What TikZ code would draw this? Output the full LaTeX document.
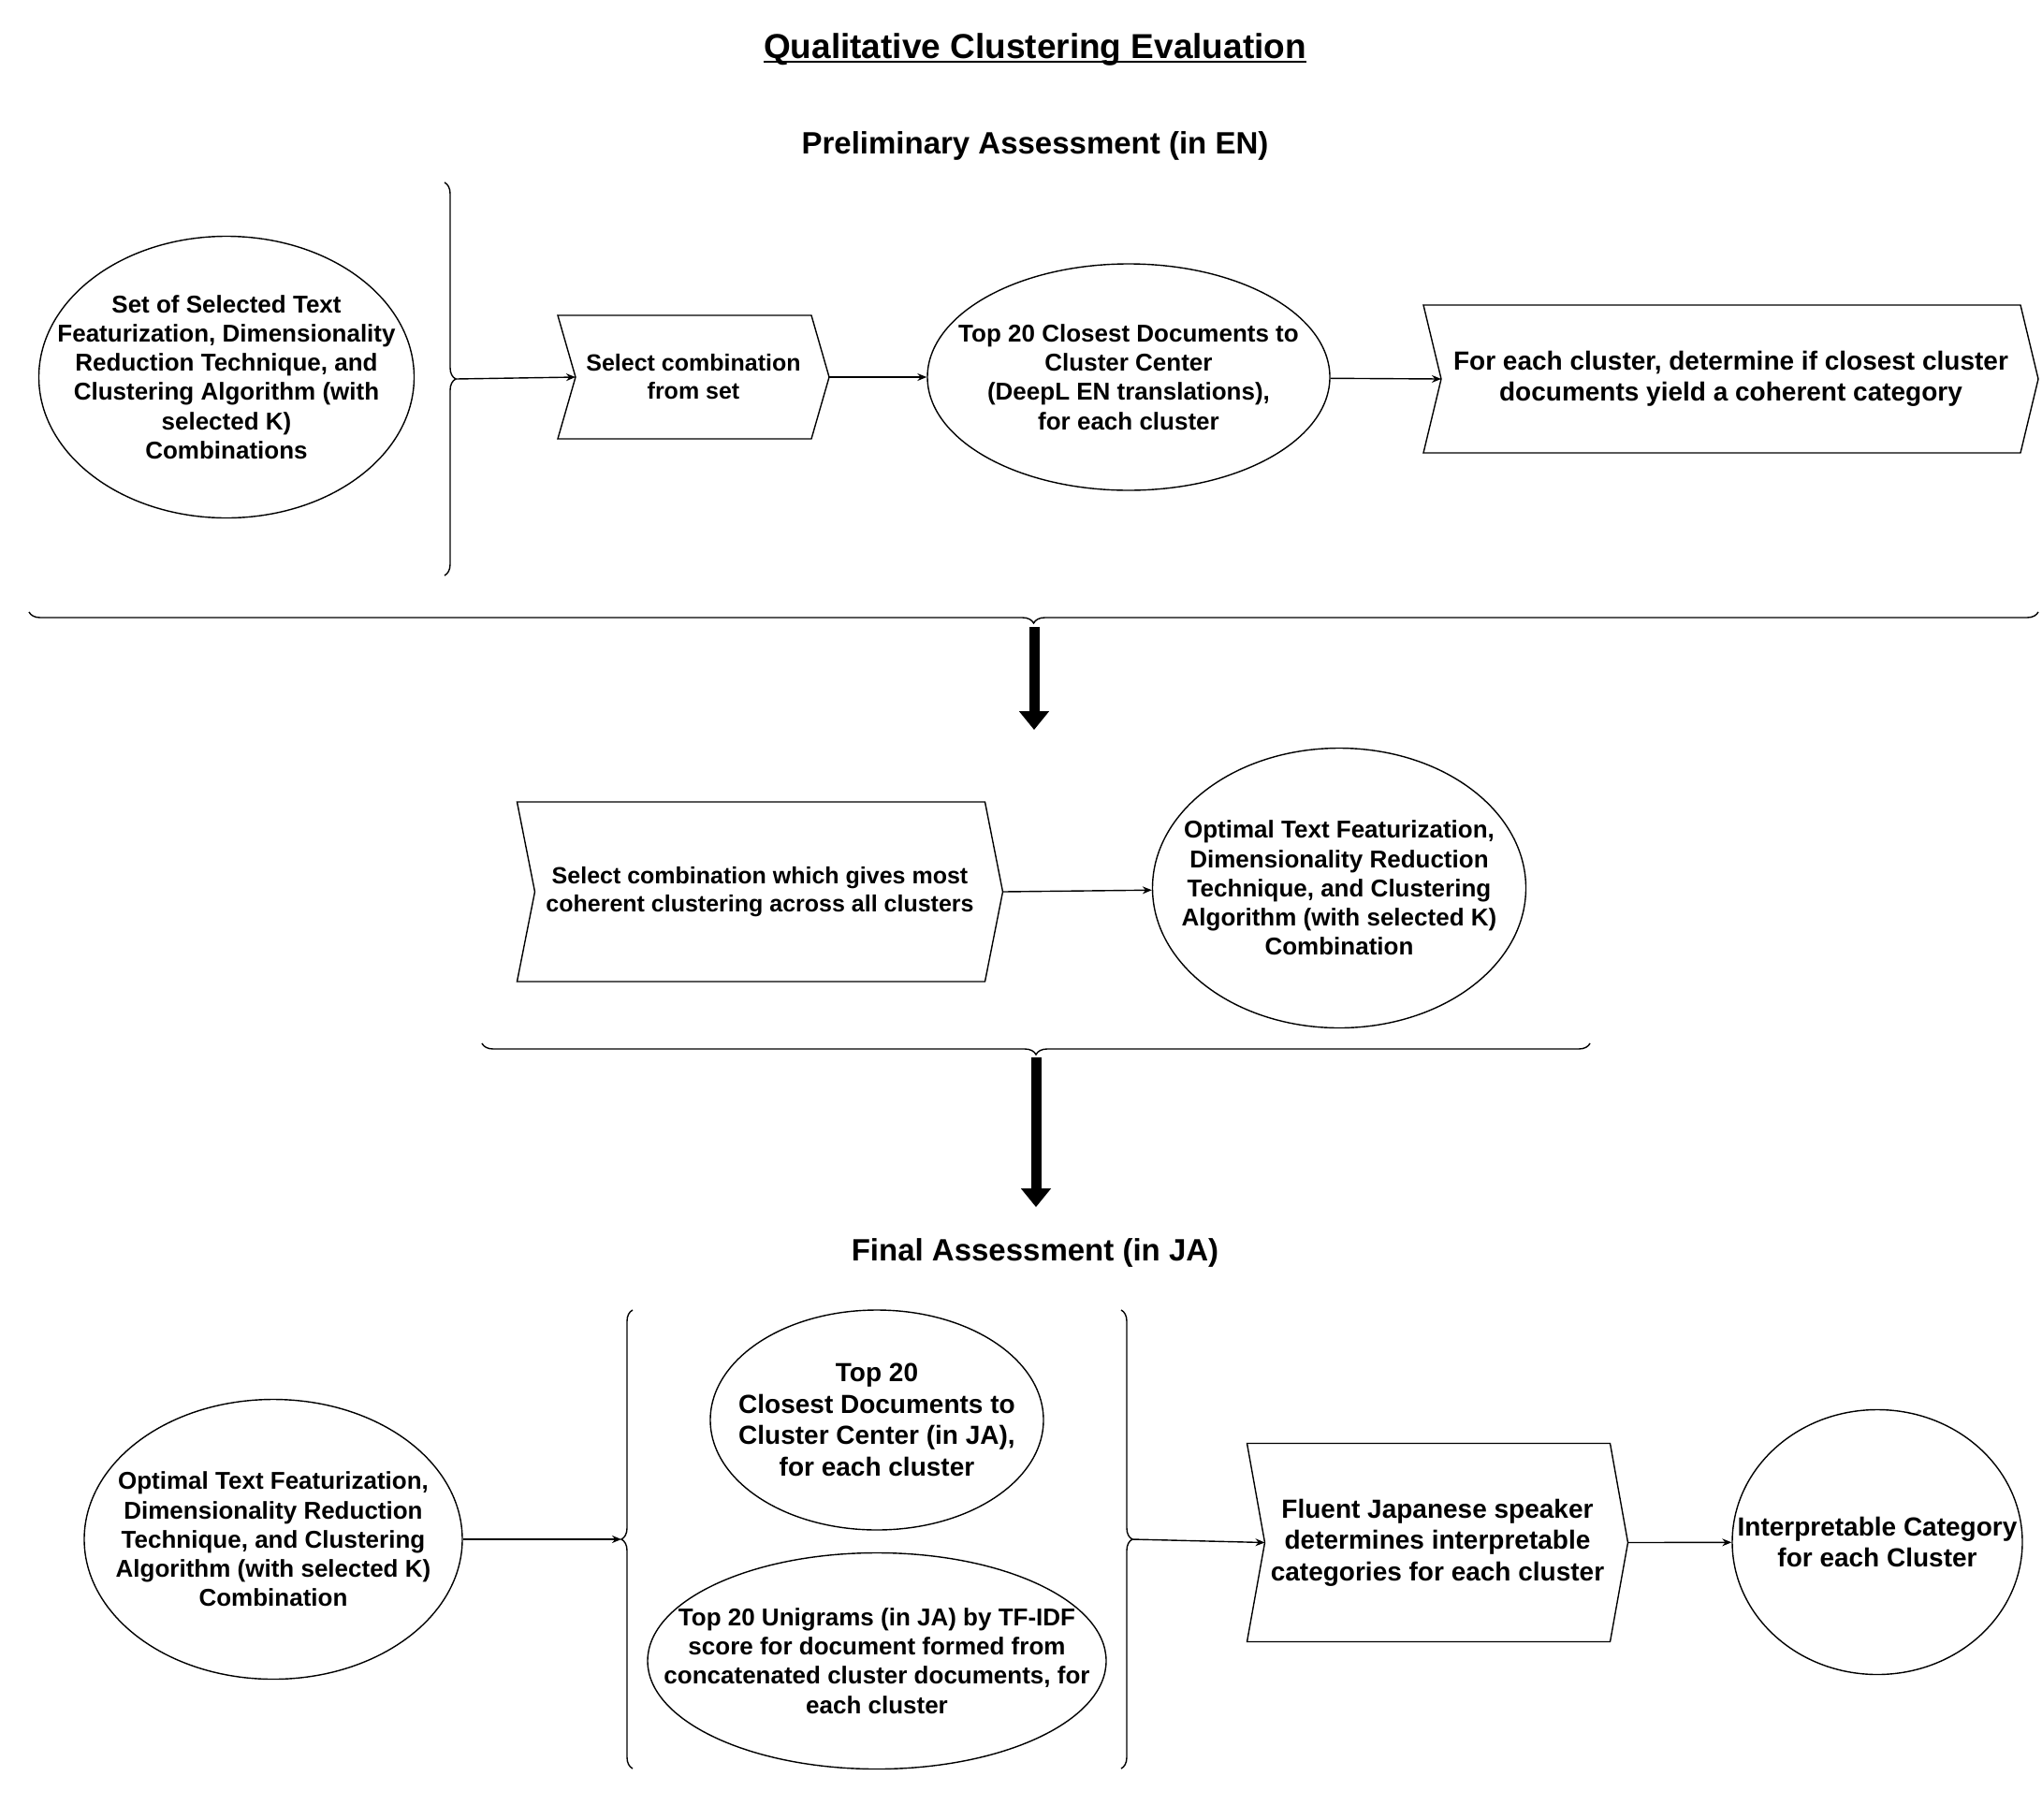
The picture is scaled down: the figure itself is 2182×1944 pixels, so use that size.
\documentclass[tikz,border=0pt]{standalone}
\usepackage{fontspec}
\setmainfont{Liberation Sans}
\usetikzlibrary{arrows.meta,shapes.geometric,decorations.pathreplacing}
\newcommand{\notchdepth}{19pt}
\tikzset{
	thinline/.style={line width=1.4pt},
	conn/.style={thinline, -{Stealth[length=10pt,width=8pt]}},
	bigarrow/.style={line width=11pt, -{Triangle[length=20pt,width=31pt]}},
	oval/.style={ellipse, draw, thinline, inner sep=-300pt, align=center},
	stepbox/.style={rectangle, inner sep=0pt, outer sep=0pt, align=center},
	bracket/.style={thinline, decorate, decoration={brace, amplitude=12pt}},
	heading/.style={inner sep=0pt, anchor=base, font=\bfseries\fontsize{33}{40}\selectfont},
	f25/.style={font=\bfseries\fontsize{25}{30}\selectfont},
	f26/.style={font=\bfseries\fontsize{26}{31.2}\selectfont},
	f28/.style={font=\bfseries\fontsize{28}{33.6}\selectfont},
}

\begin{document}
\begin{tikzpicture}[x=1pt, y=-1pt]
	\useasboundingbox (0,0) rectangle (2182,1944);
	% headings
	\node[heading, font=\bfseries\fontsize{37}{44}\selectfont] (title) at (1106,62.5) {Qualitative Clustering Evaluation};
	\draw[line width=2.2pt] ([yshift=-3.5pt]title.base west) -- ([yshift=-3.5pt]title.base east);
	\node[heading] (prelim) at (1106,164) {Preliminary Assessment (in EN)};
	\node[heading] (final) at (1106,1347) {Final Assessment (in JA)};

	% preliminary assessment
	\node[oval, f26, minimum width=401pt, minimum height=301pt] (setcombo) at (242,403) {Set of Selected Text\\Featurization, Dimensionality\\Reduction Technique, and\\Clustering Algorithm (with\\selected K)\\Combinations};
	\node[stepbox, f25, minimum width=290pt, minimum height=132pt] (select) at (741,403) {Select combination\\from set};
	\node[oval, f26, minimum width=430pt, minimum height=242pt] (topen) at (1206,403) {Top 20 Closest Documents to\\Cluster Center\\(DeepL EN translations),\\for each cluster};
	\node[stepbox, f28, minimum width=657pt, minimum height=158pt] (coherent) at (1849.5,405) {For each cluster, determine if closest cluster\\documents yield a coherent category};

	% selection
	\node[stepbox, f25, minimum width=519pt, minimum height=192pt] (best) at (812,953) {Select combination which gives most\\coherent clustering across all clusters};
	\node[oval, f26, minimum width=399pt, minimum height=299pt] (optimal) at (1431,949) {Optimal Text Featurization,\\Dimensionality Reduction\\Technique, and Clustering\\Algorithm (with selected K)\\Combination};

	% final assessment
	\node[oval, f26, minimum width=404pt, minimum height=299pt] (optimalja) at (292,1645) {Optimal Text Featurization,\\Dimensionality Reduction\\Technique, and Clustering\\Algorithm (with selected K)\\Combination};
	\node[oval, f28, minimum width=356pt, minimum height=235pt] (topja) at (937,1517.5) {Top 20\\Closest Documents to\\Cluster Center (in JA),\\for each cluster};
	\node[oval, f26, minimum width=490pt, minimum height=231pt] (unigrams) at (937,1775) {Top 20 Unigrams (in JA) by TF-IDF\\score for document formed from\\concatenated cluster documents, for\\each cluster};
	\node[stepbox, f28, minimum width=407pt, minimum height=212pt] (fluent) at (1536,1648.5) {Fluent Japanese speaker\\determines interpretable\\categories for each cluster};
	\node[oval, f28, minimum width=310pt, minimum height=283pt] (category) at (2006,1648) {Interpretable Category\\for each Cluster};

	\foreach \s in {select,coherent,best,fluent}
		\draw[thinline] (\s.north west) -- ([xshift=-\notchdepth]\s.north east) -- (\s.east)
			-- ([xshift=-\notchdepth]\s.south east) -- (\s.south west) -- ([xshift=\notchdepth]\s.west) -- cycle;

	% brackets
	\draw[bracket] (475,195) -- (475,615);
	\draw[bracket] (2178,654) -- (31,654);
	\draw[bracket] (1699,1115) -- (515,1115);
	\draw[bracket] (676,1890) -- (676,1400);
	\draw[bracket] (1198,1400) -- (1198,1890);
	\coordinate (inbrace) at (487,405);
	\coordinate (downA) at (1105,670);
	\coordinate (downAend) at (1105,780);
	\coordinate (downB) at (1107,1130);
	\coordinate (downBend) at (1107,1290);
	\coordinate (jain) at (664,1645);
	\coordinate (jaout) at (1210,1645);

	% connectors
	\draw[conn] (inbrace) -- ([xshift=\notchdepth]select.west);
	\draw[conn] (select.east) -- (topen);
	\draw[conn] (topen) -- ([xshift=\notchdepth]coherent.west);
	\draw[bigarrow] (downA) -- (downAend);
	\draw[conn] (best.east) -- (optimal);
	\draw[bigarrow] (downB) -- (downBend);
	\draw[conn] (optimalja) -- (jain);
	\draw[conn] (jaout) -- ([xshift=\notchdepth]fluent.west);
	\draw[conn] (fluent.east) -- (category);
\end{tikzpicture}
\end{document}
